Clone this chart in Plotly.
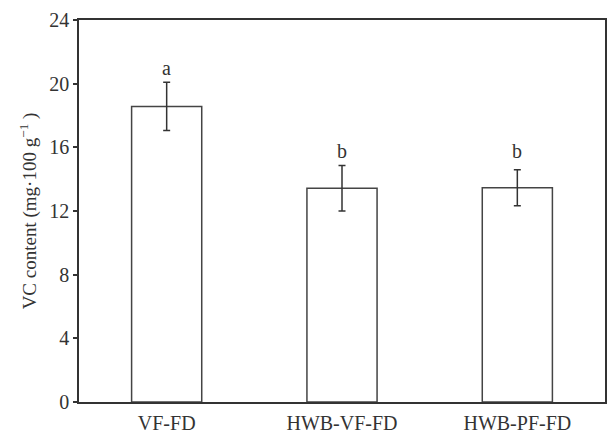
import plotly.graph_objects as go

categories = ["VF-FD", "HWB-VF-FD", "HWB-PF-FD"]
vc_mean = [18.57, 13.43, 13.46]
vc_err = [1.52, 1.43, 1.13]
sig_letters = ["a", "b", "b"]
y_ticks = [0, 4, 8, 12, 16, 20, 24]

FONT = "Liberation Serif"
INK = "#333333"

fig = go.Figure()
fig.add_trace(go.Bar(
    x=categories, y=vc_mean, width=0.4,
    marker=dict(color="white", line=dict(color="#444444", width=1.5)),
    error_y=dict(type="data", array=vc_err, visible=True,
                 color=INK, thickness=1.5, width=3.5),
    showlegend=False,
))

# letter heights: above the highest error bar within each letter group
group_top = {}
for letter, m, e in zip(sig_letters, vc_mean, vc_err):
    group_top[letter] = max(group_top.get(letter, 0), m + e)
for cat, letter in zip(categories, sig_letters):
    fig.add_annotation(x=cat, y=group_top[letter], text=letter, showarrow=False,
                       yanchor="bottom", yshift=1,
                       font=dict(family=FONT, size=20, color=INK))

fig.update_layout(
    width=608, height=435,
    margin=dict(l=79, r=1, t=20, b=27),
    paper_bgcolor="white", plot_bgcolor="white",
    font=dict(family=FONT, size=20, color=INK),
    bargap=0.6,
)
fig.update_xaxes(
    range=[-0.5, 2.5], showline=True, linecolor=INK, linewidth=1.5,
    mirror=True, ticks="outside", ticklen=2, tickcolor="rgba(0,0,0,0)",
    showgrid=False, tickfont=dict(family=FONT, size=20, color=INK),
)
fig.update_yaxes(
    range=[0, 24], tickvals=y_ticks, showline=True, linecolor=INK, linewidth=1.5,
    mirror=True, ticks="outside", ticklen=4, tickcolor=INK, tickwidth=1.5,
    showgrid=False, zeroline=False,
    tickfont=dict(family=FONT, size=20, color=INK),
    title=dict(text="VC content (mg·100 g<sup>−1</sup> )",
               font=dict(family=FONT, size=19, color=INK), standoff=8),
)

fig.write_html("out.html", config={"displayModeBar": False},
               post_script="document.body.style.margin='0';document.body.style.overflow='hidden';")
